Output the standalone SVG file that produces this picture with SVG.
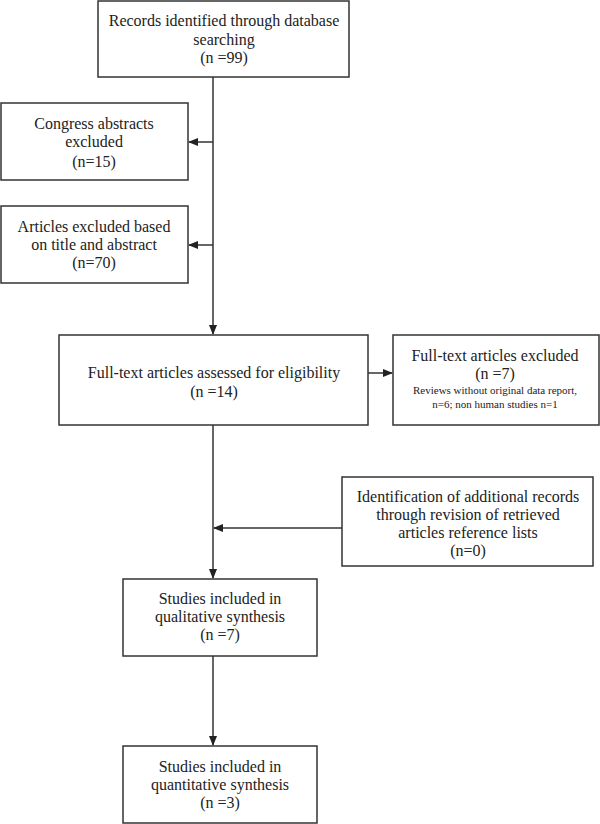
<svg xmlns="http://www.w3.org/2000/svg" width="600" height="824" viewBox="0 0 600 824">
<style>
.box{fill:#fff;stroke:#333;stroke-width:1.5}
text{font-family:"Liberation Serif","Times New Roman",serif;font-size:16px;fill:#222;text-anchor:middle}
.sm{font-size:11px}
.ln{stroke:#333;stroke-width:1.5;fill:none}
</style>
<defs>
<marker id="ah" markerWidth="10" markerHeight="8" refX="9" refY="4" orient="auto" markerUnits="userSpaceOnUse">
<path d="M0,0 L10,4 L0,8 Z" fill="#222"/>
</marker>
</defs>
<rect width="600" height="824" fill="#fff"/>
<g id="connectors">
<line class="ln" x1="213" y1="77" x2="213" y2="334" marker-end="url(#ah)"/>
<line class="ln" x1="213" y1="142" x2="189" y2="142" marker-end="url(#ah)"/>
<line class="ln" x1="213" y1="245" x2="189" y2="245" marker-end="url(#ah)"/>
<line class="ln" x1="368" y1="373" x2="392" y2="373" marker-end="url(#ah)"/>
<line class="ln" x1="213" y1="425" x2="213" y2="578" marker-end="url(#ah)"/>
<line class="ln" x1="342" y1="528" x2="214" y2="528" marker-end="url(#ah)"/>
<line class="ln" x1="213" y1="656" x2="213" y2="745" marker-end="url(#ah)"/>
</g>
<g id="records">
<rect class="box" x="98" y="1" width="251" height="76"/>
<text x="224" y="26">Records identified through database</text>
<text x="224" y="45">searching</text>
<text x="224" y="63">(n =99)</text>
</g>
<g id="congress">
<rect class="box" x="1" y="103" width="187" height="77"/>
<text x="94" y="129">Congress abstracts</text>
<text x="94" y="147">excluded</text>
<text x="94" y="167">(n=15)</text>
</g>
<g id="articles">
<rect class="box" x="1" y="206" width="187" height="77"/>
<text x="94" y="232">Articles excluded based</text>
<text x="94" y="250">on title and abstract</text>
<text x="94" y="268">(n=70)</text>
</g>
<g id="fulltext">
<rect class="box" x="59" y="335" width="309" height="90"/>
<text x="214" y="378">Full-text articles assessed for eligibility</text>
<text x="214" y="397">(n =14)</text>
</g>
<g id="excluded">
<rect class="box" x="393" y="335" width="206" height="90"/>
<text x="495" y="361">Full-text articles excluded</text>
<text x="495" y="379">(n =7)</text>
<text class="sm" x="495" y="394">Reviews without original data report,</text>
<text class="sm" x="495" y="408">n=6;  non human studies n=1</text>
</g>
<g id="additional">
<rect class="box" x="342" y="477" width="251" height="89"/>
<text x="468" y="502">Identification of additional records</text>
<text x="468" y="520">through revision of retrieved</text>
<text x="468" y="538">articles reference lists</text>
<text x="468" y="556">(n=0)</text>
</g>
<g id="qualitative">
<rect class="box" x="123" y="579" width="194" height="77"/>
<text x="220" y="604">Studies included in</text>
<text x="220" y="622">qualitative synthesis</text>
<text x="220" y="640">(n =7)</text>
</g>
<g id="quantitative">
<rect class="box" x="123" y="746" width="194" height="77"/>
<text x="220" y="772">Studies included in</text>
<text x="220" y="790">quantitative synthesis</text>
<text x="220" y="808">(n =3)</text>
</g>
</svg>
